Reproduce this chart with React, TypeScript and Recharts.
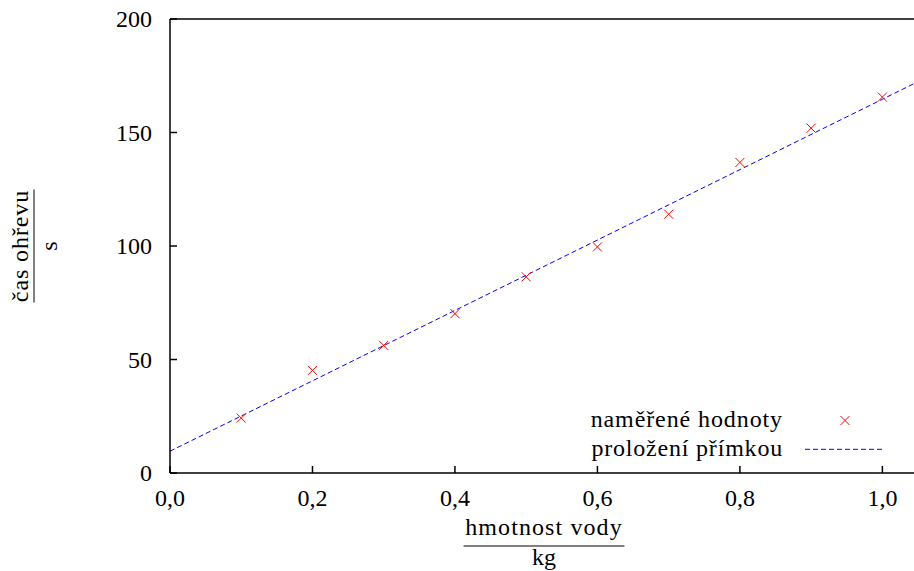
import React from 'react';
import { ComposedChart, Scatter, Line, XAxis, YAxis, Legend } from 'recharts';

// measured heating time vs. mass of water
const waterMass = [0.1, 0.2, 0.3, 0.4, 0.5, 0.6, 0.7, 0.8, 0.9, 1.0];
const heatingTime = [24.2, 45.2, 56.2, 70.2, 86.4, 99.6, 114.0, 136.8, 151.9, 165.6];

// fitted line, read at both ends of the x range
const fitMass = [0, 1.05];
const fitTime = [9.6, 172.4];

const xTicks = [0, 0.2, 0.4, 0.6, 0.8, 1.0];
const yTicks = [0, 50, 100, 150, 200];

const FONT = "'Liberation Serif', 'DejaVu Serif', serif";
const TXT = { fontFamily: FONT, fontSize: 24 };
const AXIS = { stroke: '#000', strokeWidth: 1.5 };

const points = waterMass.map((x, i) => ({ x, y: heatingTime[i] }));
const fitLine = fitMass.map((x, i) => ({ x, y: fitTime[i] }));

const fmtX = (v: number) => v.toFixed(1).replace('.', ',');

const Cross = ({ cx, cy }: any) => (
  <path
    d={`M${cx - 4.5},${cy - 4.5}L${cx + 4.5},${cy + 4.5}M${cx - 4.5},${cy + 4.5}L${cx + 4.5},${cy - 4.5}`}
    stroke="#ff0000"
    strokeWidth={1}
    fill="none"
  />
);

const BottomTick = ({ x, y, payload }: any) => (
  <g>
    <line x1={x} y1={y} x2={x} y2={y - 7} stroke="#000" strokeWidth={1.5} />
    <text x={x} y={y + 33} textAnchor="middle" style={TXT} fill="#000">
      {fmtX(payload.value)}
    </text>
  </g>
);

const TopTick = ({ x, y }: any) => (
  <line x1={x} y1={y} x2={x} y2={y + 7} stroke="#000" strokeWidth={1.5} />
);

const LeftTick = ({ x, y, payload }: any) => (
  <g>
    <line x1={x} y1={y} x2={x + 7} y2={y} stroke="#000" strokeWidth={1.5} />
    <text x={x - 18} y={y + 8} textAnchor="end" style={TXT} fill="#000">
      {payload.value}
    </text>
  </g>
);

const RightTick = ({ x, y }: any) => (
  <line x1={x} y1={y} x2={x - 7} y2={y} stroke="#000" strokeWidth={1.5} />
);

const XLabel = ({ viewBox }: any) => {
  const cx = viewBox.x + viewBox.width / 2;
  const y0 = viewBox.y;
  return (
    <g fill="#000">
      <text x={cx} y={y0 + 62} textAnchor="middle" style={{ ...TXT, letterSpacing: 1.1 }}>hmotnost vody</text>
      <line x1={cx - 80.5} x2={cx + 80.5} y1={y0 + 73} y2={y0 + 73} stroke="#000" strokeWidth={1} />
      <text x={cx} y={y0 + 92} textAnchor="middle" style={TXT}>kg</text>
    </g>
  );
};

const YLabel = ({ viewBox }: any) => {
  const cy = viewBox.y + viewBox.height / 2;
  return (
    <g transform={`translate(34, ${cy}) rotate(-90)`} fill="#000">
      <text x={0} y={-6} textAnchor="middle" style={{ ...TXT, letterSpacing: 0.9 }}>čas ohřevu</text>
      <line x1={-56.5} x2={56.5} y1={0} y2={0} stroke="#000" strokeWidth={1} />
      <text x={0} y={23} textAnchor="middle" style={TXT}>s</text>
    </g>
  );
};

const renderLegend = () => (
  <svg width={340} height={70} style={{ display: 'block' }}>
    <g fill="#000">
      <text x={223} y={26.7} textAnchor="end" style={{ ...TXT, letterSpacing: 0.9 }}>naměřené hodnoty</text>
      <text x={223} y={55.5} textAnchor="end" style={{ ...TXT, letterSpacing: 0.8 }}>proložení přímkou</text>
    </g>
    <Cross cx={285} cy={20.5} />
    <line x1={245} x2={323} y1={49.3} y2={49.3} stroke="#0000ff" strokeWidth={1} strokeDasharray="5 3" />
  </svg>
);

export default function App() {
  return (
    <div style={{ position: 'fixed', left: 0, top: 0, width: 914, height: 571, overflow: 'hidden', background: '#fff' }}>
      <ComposedChart width={930} height={571} margin={{ top: 18, right: 11, bottom: 0, left: 0 }}>
        <XAxis
          xAxisId="b"
          dataKey="x"
          type="number"
          domain={[0, 1.05]}
          ticks={xTicks}
          height={98}
          tickSize={0}
          tickMargin={0}
          tickLine={false}
          axisLine={AXIS}
          tick={<BottomTick />}
          interval={0}
          label={{ content: XLabel }}
        />
        <XAxis
          xAxisId="t"
          orientation="top"
          dataKey="x"
          type="number"
          domain={[0, 1.05]}
          ticks={xTicks}
          height={1}
          tickSize={0}
          tickMargin={0}
          tickLine={false}
          axisLine={AXIS}
          tick={<TopTick />}
          interval={0}
        />
        <YAxis
          yAxisId="l"
          dataKey="y"
          type="number"
          domain={[0, 200]}
          ticks={yTicks}
          width={170}
          tickSize={0}
          tickMargin={0}
          tickLine={false}
          axisLine={AXIS}
          tick={<LeftTick />}
          interval={0}
          label={{ content: YLabel }}
        />
        <YAxis
          yAxisId="r"
          orientation="right"
          dataKey="y"
          type="number"
          domain={[0, 200]}
          ticks={yTicks}
          width={1}
          tickSize={0}
          tickMargin={0}
          tickLine={false}
          axisLine={AXIS}
          tick={<RightTick />}
          interval={0}
        />
        <Line
          xAxisId="b"
          yAxisId="l"
          data={fitLine}
          dataKey="y"
          type="linear"
          stroke="#0000ff"
          strokeWidth={1}
          strokeDasharray="5 3"
          dot={false}
          activeDot={false}
          isAnimationActive={false}
        />
        <Scatter
          xAxisId="b"
          yAxisId="l"
          data={points}
          dataKey="y"
          shape={<Cross />}
          isAnimationActive={false}
        />
        <Legend
          layout="horizontal"
          verticalAlign="middle"
          align="center"
          content={renderLegend}
          wrapperStyle={{ position: 'absolute', left: 560, top: 400, width: 340, height: 70 }}
        />
      </ComposedChart>
    </div>
  );
}
